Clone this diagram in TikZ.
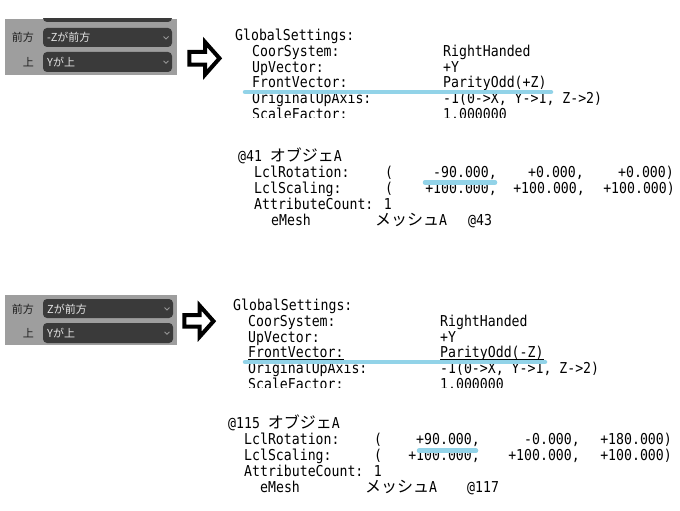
\documentclass[tikz,border=0pt]{standalone}
\usepackage{fontspec}
\newfontfamily\monof[FakeStretch=0.88]{DejaVu Sans Mono}
\newfontfamily\jpf{Noto Sans CJK JP}
\newcommand\jtext[1]{{\jpf\fontsize{16}{16}\selectfont #1}}
\definecolor{panelgray}{RGB}{158,158,158}
\definecolor{dropdark}{RGB}{58,58,58}
\definecolor{hlblue}{RGB}{146,211,232}
\definecolor{labeldark}{RGB}{30,30,30}
\definecolor{droptext}{RGB}{228,228,228}
\definecolor{chev}{RGB}{150,150,150}
\tikzset{
  code/.style={anchor=base west, inner sep=0pt, text height=11pt, text depth=3pt, font=\monof\fontsize{15}{15}\selectfont},
  coder/.style={anchor=base east, inner sep=0pt, text height=11pt, text depth=3pt, font=\monof\fontsize{15}{15}\selectfont},
  hl/.style={draw=hlblue, line width=4.5pt, line cap=round},
  drop/.style={fill=dropdark, rounded corners=4pt},
  droplbl/.style={anchor=west, inner sep=0pt, text=droptext, font=\jpf\fontsize{11}{11}\selectfont},
  sidelbl/.style={anchor=east, inner sep=0pt, text=labeldark, font=\jpf\fontsize{11}{11}\selectfont},
  chevron/.style={draw=chev, line width=0.8pt},
  hollowarrow/.style={draw=black, line width=4pt, line join=miter},
  uline/.style={draw=black, line width=0.8pt},
}
\begin{document}
\begin{tikzpicture}[x=1pt,y=-1pt]
\useasboundingbox (0,0) rectangle (680,511);
\fill[white] (0,0) rectangle (680,511);

% ---------- Panel 1 ----------
\begin{scope}
  \clip (5,19) rectangle (177,75);
  \fill[panelgray] (5,19) rectangle (177,75);
  \fill[drop] (43,10) rectangle (172,22);
\end{scope}
\fill[drop] (43,28) rectangle (172,47);
\fill[drop] (43,52) rectangle (172,72);
\node[droplbl] (d1a) at (47,37.8) {-Zが前方};
\node[droplbl] (d1b) at (47,62.2) {Yが上};
\node[sidelbl] (l1a) at (34,37.8) {前方};
\node[sidelbl] (l1b) at (34,62.2) {上};
\draw[chevron] (163.5,36.5) -- (166,39) -- (168.5,36.5);
\draw[chevron] (163.5,60.8) -- (166,63.3) -- (168.5,60.8);

% ---------- Arrow 1 ----------
\draw[hollowarrow] (189.3,52) -- (205,52) -- (205,42) -- (219.5,58.3) -- (205,74.7) -- (205,64.7) -- (189.3,64.7) -- cycle;

% ---------- Block 1 upper ----------
\begin{scope}
  \clip (225,20) rectangle (680,117);
  \node[code] (g1) at (235,40.7) {GlobalSettings:};
  \node[code] (cs1) at (252,56.4) {CoorSystem:};
  \node[code] (cs1v) at (443,56.4) {RightHanded};
  \node[code] (uv1) at (252,72.1) {UpVector:};
  \node[code] (uv1v) at (443,72.1) {+Y};
  \node[code] (fv1) at (252,87.8) {FrontVector:};
  \node[code] (fv1v) at (443,87.8) {ParityOdd(+Z)};
  \node[code] (ou1) at (252,103.5) {OriginalUpAxis:};
  \node[code] (ou1v) at (443,103.5) {-1(0->X, Y->1, Z->2)};
  \node[code] (sf1) at (252,119.2) {ScaleFactor:};
  \node[code] (sf1v) at (443,119.2) {1.000000};
\end{scope}
\draw[hl] (245,92) -- (551,92);

% ---------- Block 1 lower ----------
\node[code] (o1) at (238,161.7) {@41 \jtext{オブジェ}A};
\node[code] (r1) at (254,177.3) {LclRotation:};
\node[code] (r1p) at (385,177.3) {(};
\node[coder] (r1x) at (497,177.3) {-90.000,};
\node[coder] (r1y) at (584,177.3) {+0.000,};
\node[coder] (r1z) at (674,177.3) {+0.000)};
\node[code] (s1) at (254,193.3) {LclScaling:};
\node[code] (s1p) at (385,193.3) {(};
\node[coder] (s1x) at (497,193.3) {+100.000,};
\node[coder] (s1y) at (585,193.3) {+100.000,};
\node[coder] (s1z) at (675,193.3) {+100.000)};
\node[code] (a1) at (254,209.5) {AttributeCount: 1};
\node[code] (m1) at (271,225.5) {eMesh};
\node[code] (m1n) at (375,225.5) {\jtext{メッシュ}A};
\node[code] (m1r) at (468,225.5) {@43};
\draw[hl] (425,182.5) -- (495,182.5);

% ---------- Panel 2 ----------
\fill[panelgray] (5,295) rectangle (177,345);
\fill[drop] (43,299) rectangle (173,318);
\fill[drop] (43,323) rectangle (173,343);
\node[droplbl] (d2a) at (47,309) {Zが前方};
\node[droplbl] (d2b) at (47,333.3) {Yが上};
\node[sidelbl] (l2a) at (34,309) {前方};
\node[sidelbl] (l2b) at (34,333.3) {上};
\draw[chevron] (164.5,307.5) -- (167,310) -- (169.5,307.5);
\draw[chevron] (164.5,331.8) -- (167,334.3) -- (169.5,331.8);

% ---------- Arrow 2 ----------
\draw[hollowarrow] (184.3,315) -- (199.7,315) -- (199.7,305.7) -- (213.5,321.2) -- (199.7,336.7) -- (199.7,326.7) -- (184.3,326.7) -- cycle;

% ---------- Block 2 upper ----------
\begin{scope}
  \clip (222,290) rectangle (680,387);
  \node[code] (g2) at (233,310.7) {GlobalSettings:};
  \node[code] (cs2) at (248,326.4) {CoorSystem:};
  \node[code] (cs2v) at (440,326.4) {RightHanded};
  \node[code] (uv2) at (248,342.1) {UpVector:};
  \node[code] (uv2v) at (440,342.1) {+Y};
  \node[code] (fv2) at (248,357.8) {FrontVector:};
  \node[code] (fv2v) at (440,357.8) {ParityOdd(-Z)};
  \node[code] (ou2) at (248,373.5) {OriginalUpAxis:};
  \node[code] (ou2v) at (440,373.5) {-1(0->X, Y->1, Z->2)};
  \node[code] (sf2) at (248,389.2) {ScaleFactor:};
  \node[code] (sf2v) at (440,389.2) {1.000000};
\end{scope}
\draw[uline] ([yshift=-1.6pt]fv2.base west) -- ([yshift=-1.6pt]fv2.base east);
\draw[uline] ([yshift=-1.6pt]fv2v.base west) -- ([yshift=-1.6pt]fv2v.base east);
\draw[hl] (245,362) -- (545,362);

% ---------- Block 2 lower ----------
\node[code] (o2) at (228,428.3) {@115 \jtext{オブジェ}A};
\node[code] (r2) at (244,444.3) {LclRotation:};
\node[code] (r2p) at (374,444.3) {(};
\node[coder] (r2x) at (480,444.3) {+90.000,};
\node[coder] (r2y) at (580,444.3) {-0.000,};
\node[coder] (r2z) at (672,444.3) {+180.000)};
\node[code] (s2) at (244,460.5) {LclScaling:};
\node[code] (s2p) at (374,460.5) {(};
\node[coder] (s2x) at (480,460.5) {+100.000,};
\node[coder] (s2y) at (580,460.5) {+100.000,};
\node[coder] (s2z) at (672,460.5) {+100.000)};
\node[code] (a2) at (244,476.6) {AttributeCount: 1};
\node[code] (m2) at (260,492.6) {eMesh};
\node[code] (m2n) at (365,492.6) {\jtext{メッシュ}A};
\node[code] (m2r) at (467,492.6) {@117};
\draw[hl] (419,450.7) -- (476,450.7);
\end{tikzpicture}
\end{document}
